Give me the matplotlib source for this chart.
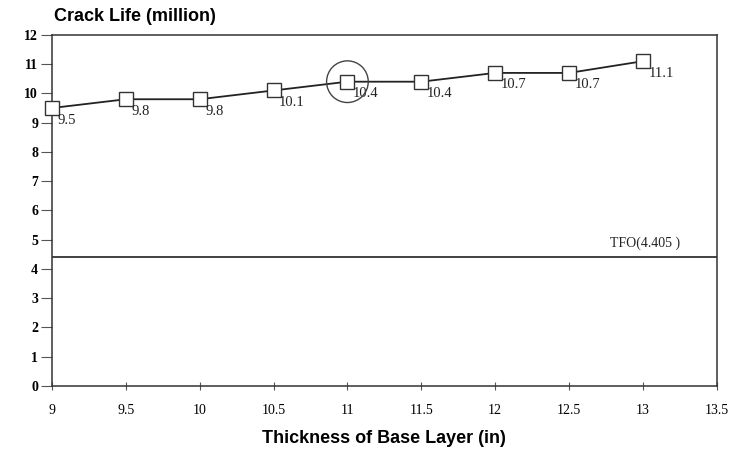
import matplotlib
matplotlib.use("Agg")
import matplotlib.pyplot as plt
import numpy as np

thickness = [9, 9.5, 10, 10.5, 11, 11.5, 12, 12.5, 13]
crack_life = [9.5, 9.8, 9.8, 10.1, 10.4, 10.4, 10.7, 10.7, 11.1]
value_labels = ["9.5", "9.8", "9.8", "10.1", "10.4", "10.4", "10.7", "10.7", "11.1"]
tfo_value = 4.405
tfo_label = "TFO(4.405 )"
highlight_x = 11
highlight_y = 10.4
x_ticks = [9, 9.5, 10, 10.5, 11, 11.5, 12, 12.5, 13, 13.5]
x_tick_labels = ["9", "9.5", "10", "10.5", "11", "11.5", "12", "12.5", "13", "13.5"]
y_ticks = list(range(0, 13))

serif = "Liberation Serif"
sans = "Liberation Sans"

fig = plt.figure(figsize=(7.42, 4.53), dpi=100)
ax = fig.add_axes([0.070, 0.148, 0.896, 0.775])

ax.plot(thickness, crack_life, color="#222222", lw=1.3, marker="s", ms=10,
        mfc="white", mec="#333333", mew=1.0, zorder=3, clip_on=False)
for x, y, s in zip(thickness, crack_life, value_labels):
    ax.annotate(s, (x, y), xytext=(4, -4), textcoords="offset points",
                ha="left", va="top", fontsize=10.5, family=serif, color="#222222")

ax.scatter([highlight_x], [highlight_y], s=900, facecolors="none",
           edgecolors="#444444", linewidths=1.0, zorder=4)

ax.axhline(tfo_value, color="#333333", lw=1.3)
ax.text(13.25, tfo_value + 0.25, tfo_label, ha="right", va="bottom",
        fontsize=10, family=serif, color="#222222")

ax.set_xlim(9, 13.5)
ax.set_ylim(0, 12)
ax.set_xticks(x_ticks)
ax.set_xticklabels(x_tick_labels, family=serif, fontsize=10)
ax.set_yticks(y_ticks)
ax.set_yticklabels([str(v) for v in y_ticks], family=serif, fontsize=10,
                   fontweight="bold")
ax.tick_params(axis="x", direction="inout", length=6, pad=10, color="#555555")
ax.tick_params(axis="y", direction="out", length=8, pad=2, color="#555555")

for sp in ax.spines.values():
    sp.set_color("#333333")
    sp.set_linewidth(1.1)

ax.set_xlabel("Thickness of Base Layer (in)", family=sans, fontweight="bold",
              fontsize=13, labelpad=9)
fig.text(0.073, 0.945, "Crack Life (million)", family=sans, fontweight="bold",
         fontsize=13, ha="left", va="bottom")

fig.savefig("out.png", dpi=100)
